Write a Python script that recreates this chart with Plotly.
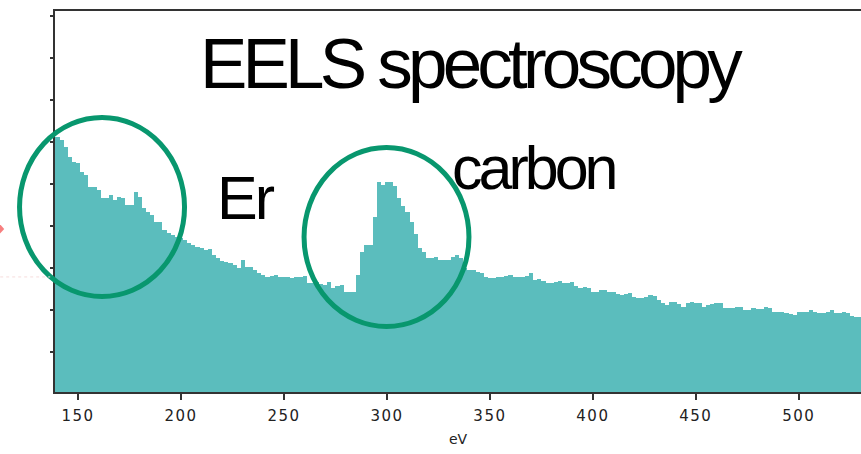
import plotly.graph_objects as go

# EELS spectrum: bin centres (eV) and counts (arbitrary units)
energy_ev = list(range(140, 532, 2))
counts = [
    255, 252, 245, 235, 230, 229, 220, 217, 205, 205,
    202, 194, 194, 197, 192, 195, 194, 187, 187, 200,
    195, 184, 180, 177, 170, 170, 162, 159, 157, 155,
    154, 152, 149, 147, 145, 144, 142, 143, 137, 134,
    131, 130, 129, 127, 124, 132, 125, 125, 122, 119,
    117, 115, 116, 117, 115, 115, 115, 114, 115, 115,
    116, 109, 109, 110, 108, 107, 110, 104, 106, 107,
    100, 100, 100, 117, 140, 147, 147, 175, 210, 207,
    210, 210, 206, 194, 186, 180, 170, 158, 144, 140,
    134, 134, 135, 132, 132, 132, 135, 137, 134, 124,
    122, 122, 120, 119, 115, 114, 114, 115, 115, 116,
    117, 115, 115, 115, 116, 119, 112, 113, 111, 109,
    109, 110, 111, 109, 109, 110, 106, 104, 105, 104,
    100, 100, 102, 102, 100, 100, 98, 97, 98, 99,
    95, 94, 94, 95, 97, 96, 92, 89, 87, 90,
    90, 88, 85, 89, 90, 89, 89, 85, 87, 88,
    89, 89, 84, 84, 84, 85, 85, 82, 82, 84,
    83, 83, 85, 84, 80, 80, 80, 79, 78, 77,
    80, 80, 80, 82, 80, 79, 79, 80, 82, 79,
    79, 80, 79, 76, 75, 75,
]
x_ticks = [150, 200, 250, 300, 350, 400, 450, 500]
x_range = [138.8, 530.2]
y_range = [0, 381]

title_text = "EELS spectroscopy"
label_er = "Er"
label_carbon = "carbon"
x_title = "eV"

BAR = "#5BBDBD"
GREEN = "#08976E"
AXIS = "#333333"
FONT = "Liberation Sans, Arial, sans-serif"


def spaced(text, px):
    return f'<span style="letter-spacing:{px}px">{text}</span>'


fig = go.Figure()
fig.add_trace(go.Bar(
    x=energy_ev, y=counts, width=2,
    marker=dict(color=BAR, line=dict(width=0)),
    hoverinfo="skip",
))

fig.update_layout(
    width=861, height=454,
    margin=dict(l=55, r=0, t=11, b=62),
    paper_bgcolor="white", plot_bgcolor="white",
    bargap=0, showlegend=False,
    xaxis=dict(
        range=x_range, tickvals=x_ticks,
        ticktext=[spaced(str(v), 1.5) for v in x_ticks],
        ticks="outside", ticklen=6, tickwidth=1.5, tickcolor=AXIS,
        ticklabelstandoff=3,
        showline=True, linecolor=AXIS, linewidth=2, mirror=True,
        showgrid=False, zeroline=False,
        tickfont=dict(family="DejaVu Sans", size=15, color="#222222"),
        title=dict(text=x_title, font=dict(family="DejaVu Sans", size=14, color="#222222"), standoff=10),
    ),
    yaxis=dict(
        range=y_range, showticklabels=False,
        ticks="outside", ticklen=3, tickwidth=1.5, tickcolor=AXIS,
        tick0=40, dtick=42,
        showline=True, linecolor=AXIS, linewidth=2,
        showgrid=False, zeroline=False,
    ),
)

fig.add_annotation(text=spaced(title_text, -4.8), xref="paper", yref="paper", x=0.517, y=0.861,
                   xanchor="center", yanchor="middle", showarrow=False,
                   font=dict(family=FONT, size=71, color="black"))
fig.add_annotation(text=spaced(label_er, -3), xref="paper", yref="paper", x=0.198, y=0.509,
                   xanchor="left", yanchor="middle", showarrow=False,
                   font=dict(family=FONT, size=61, color="black"))
fig.add_annotation(text=spaced(label_carbon, -4), xref="paper", yref="paper", x=0.490, y=0.588,
                   xanchor="left", yanchor="middle", showarrow=False,
                   font=dict(family=FONT, size=61, color="black"))

# highlight circles
fig.add_shape(type="circle", xref="paper", yref="paper",
              x0=-0.044, x1=0.1607, y0=0.2507, y1=0.7205,
              line=dict(color=GREEN, width=5))
fig.add_shape(type="circle", xref="paper", yref="paper",
              x0=0.309, x1=0.5136, y0=0.172, y1=0.6417,
              line=dict(color=GREEN, width=5))

# small pink marker and faint guide at the left edge
fig.add_shape(type="path", xref="paper", yref="paper",
              path="M -0.0690,0.442 L -0.0630,0.428 L -0.0690,0.414 Z",
              fillcolor="#F77F7F", line=dict(width=0))
fig.add_shape(type="line", xref="paper", yref="paper",
              x0=-0.068, x1=-0.006, y0=0.302, y1=0.302,
              line=dict(color="#F6DCDC", width=1, dash="dot"))

fig.write_html("out.html")
